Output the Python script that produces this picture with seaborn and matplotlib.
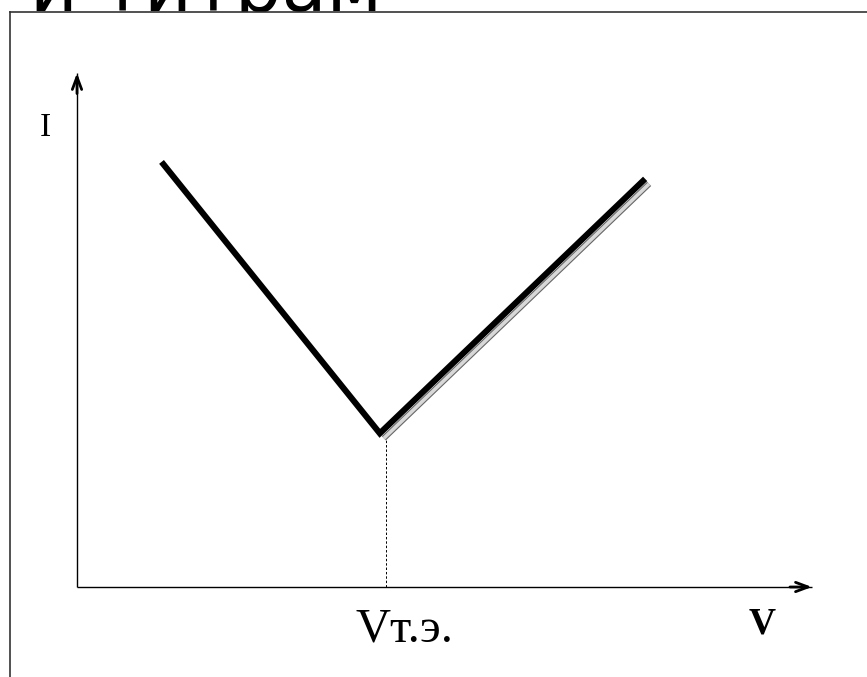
import numpy as np
import pandas as pd
import matplotlib
matplotlib.use("Agg")
import matplotlib.pyplot as plt
import matplotlib.transforms as mtransforms
import seaborn as sns

# ---- data ----
volume = [1.15, 4.12, 7.73]        # V (arb. units)
current = [8.27, 2.99, 7.94]       # I (arb. units)
shadow_volume = [4.12, 7.73]
shadow_current = [2.99, 7.94]
v_te = 4.20                        # equivalence point
x_label = "V"
y_label = "I"
te_label = "Vт.э."
title_text = "и титрам"

sns.set_theme(style="white")
plt.rcParams["font.family"] = ["DejaVu Sans"]

W, H = 867, 677
fig = plt.figure(figsize=(W / 100, H / 100), dpi=100)
fig.patch.set_facecolor("white")

# frame axes (left and top border)
left_px, top_px = 10, 12
ax = fig.add_axes([left_px / W, 0, 1 - left_px / W, 1 - top_px / H])
ax.set_facecolor("white")
ax.set_zorder(1)

# pixel mapping: origin at (77, 587); x unit 73.5px, y unit 51.4px
ox, oy, ux, uy = 77, 587, 73.5, 51.4
ax.set_xlim((left_px - ox) / ux, (W - ox) / ux)
ax.set_ylim((oy - H) / uy, (oy - top_px) / uy)
for s in ["right", "bottom"]:
    ax.spines[s].set_visible(False)
for s in ["left", "top"]:
    ax.spines[s].set_color("#333333")
    ax.spines[s].set_linewidth(1.2)
ax.set_xticks([])
ax.set_yticks([])

# axes lines with arrow heads
x_tip = (812 - ox) / ux
y_tip = (oy - 73) / uy
ax.plot([0, x_tip], [0, 0], color="black", lw=1.0, solid_capstyle="butt")
ax.plot([0, 0], [0, y_tip], color="black", lw=1.0, solid_capstyle="butt")
head_kw = dict(arrowstyle="->,head_length=0.75,head_width=0.28", color="black", lw=2.0,
               shrinkA=0, shrinkB=0, joinstyle="miter")
ax.annotate("", xy=(x_tip, 0), xytext=(x_tip - 0.3, 0), arrowprops=head_kw)
ax.annotate("", xy=(0, y_tip), xytext=(0, y_tip - 0.4), arrowprops=head_kw)

# dotted equivalence line
ax.plot([v_te, v_te], [0, shadow_current[0] - 0.12], color="black", lw=0.7,
        linestyle=(0, (2.5, 2)))

# shadow of right branch
shadow_tr = mtransforms.offset_copy(ax.transData, fig=fig, x=4, y=-5, units="dots")
ax.plot(shadow_volume, shadow_current, color="#666666", lw=4.2, transform=shadow_tr,
        solid_capstyle="butt", zorder=2)
ax.plot(shadow_volume, shadow_current, color="#d8d8d8", lw=2.6, transform=shadow_tr,
        solid_capstyle="butt", zorder=2.1)

# main curve
df = pd.DataFrame({"V": volume, "I": current})
sns.lineplot(data=df, x="V", y="I", sort=False, color="black", lw=4.4, ax=ax,
             zorder=3)
ln = ax.lines[-1]
ln.set_solid_capstyle("butt")
ln.set_solid_joinstyle("miter")
ax.set_xlabel("")
ax.set_ylabel("")

# labels
ax.text((45 - ox) / ux, (oy - 128) / uy, y_label, fontsize=24, family="Liberation Serif",
        ha="center", va="center", color="black")
ax.text((762 - ox) / ux, (oy - 624) / uy, x_label, fontsize=27, family="Liberation Serif",
        fontweight="bold", ha="center", va="center", color="black")
ax.text((404 - ox) / ux, (oy - 630) / uy, te_label, fontsize=35,
        family="Liberation Serif", ha="center", va="center", color="black")

# clipped title text from previous slide line
fig.text(30 / W, 1 - 11 / H, title_text, fontsize=53, family="DejaVu Sans",
         ha="left", va="baseline", color="black", zorder=0)

fig.savefig("out.png", dpi=100, facecolor="white")
